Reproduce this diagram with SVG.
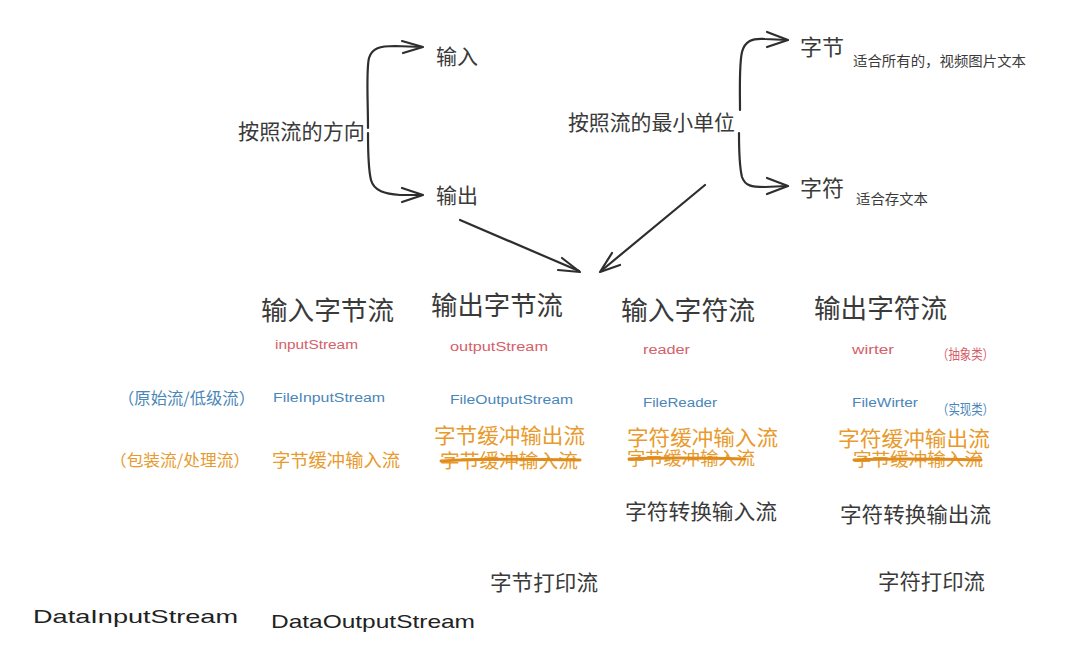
<svg xmlns="http://www.w3.org/2000/svg" width="1071" height="648" viewBox="0 0 1071 648">
<style>
.cn{font-family:"Noto Sans CJK SC","Noto Sans",sans-serif;fill:#3a3a3a}
.hw{font-family:"Liberation Sans","DejaVu Sans",sans-serif}
.red{fill:#d4606a}
.blue{fill:#4a86b8}
.org{fill:#e89a2c}
.ln{fill:none;stroke:#2e2e2e;stroke-width:2.2;stroke-linecap:round;stroke-linejoin:round}
.strike{fill:none;stroke:#e08c1c;stroke-width:3;stroke-linecap:round}
</style>
<rect width="1071" height="648" fill="#ffffff"/>
<g id="connectors">
<path class="ln" d="M368,128 C368,100 366,70 369,58 C372,48 380,46 395,46 L422,47"/>
<path class="ln" d="M402,41 L423,47 L403,53"/>
<path class="ln" d="M368,133 C368,150 368,168 371,180 C374,191 385,194 400,195 L422,195"/>
<path class="ln" d="M402,188 L423,195 L402,202"/>
<path class="ln" d="M740,110 C740,90 739,65 742,52 C745,41 752,38 765,39 L787,40"/>
<path class="ln" d="M767,32 L788,40 L767,47"/>
<path class="ln" d="M739,133 C739,150 739,165 742,177 C745,186 752,187 765,187 L787,186"/>
<path class="ln" d="M767,178 L788,186 L767,194"/>
<path class="ln" d="M460,220 L579,271"/>
<path class="ln" d="M562,258 L580,272 L558,270"/>
<path class="ln" d="M705,185 L601,271"/>
<path class="ln" d="M612,253 L600,272 L620,265"/>
</g>
<g id="direction">
<text class="cn" x="238" y="139" font-size="21" textLength="127" lengthAdjust="spacingAndGlyphs">按照流的方向</text>
<text class="cn" x="436" y="64" font-size="21">输入</text>
<text class="cn" x="436" y="203" font-size="21">输出</text>
</g>
<g id="unit">
<text class="cn" x="568" y="130" font-size="21" textLength="167" lengthAdjust="spacingAndGlyphs">按照流的最小单位</text>
<text class="cn" x="800" y="55" font-size="22">字节</text>
<text class="cn" x="853" y="66" font-size="13.5" textLength="173" lengthAdjust="spacingAndGlyphs">适合所有的，视频图片文本</text>
<text class="cn" x="800" y="196" font-size="22">字符</text>
<text class="cn" x="856" y="204" font-size="13.5" textLength="72" lengthAdjust="spacingAndGlyphs">适合存文本</text>
</g>
<g id="col-input-byte">
<text class="cn" x="261" y="320" font-size="26.5" textLength="133" lengthAdjust="spacingAndGlyphs">输入字节流</text>
<text class="hw red" x="275" y="349" font-size="12" textLength="83" lengthAdjust="spacingAndGlyphs">inputStream</text>
<text class="hw blue" x="273" y="402" font-size="12.5" textLength="112" lengthAdjust="spacingAndGlyphs">FileInputStream</text>
<text class="cn org" x="272" y="467" font-size="18" textLength="128" lengthAdjust="spacingAndGlyphs">字节缓冲输入流</text>
</g>
<g id="col-output-byte">
<text class="cn" x="431" y="315" font-size="26.5" textLength="132" lengthAdjust="spacingAndGlyphs">输出字节流</text>
<text class="hw red" x="450" y="351" font-size="12" textLength="98" lengthAdjust="spacingAndGlyphs">outputStream</text>
<text class="hw blue" x="450" y="404" font-size="12.5" textLength="123" lengthAdjust="spacingAndGlyphs">FileOutputStream</text>
<text class="cn org" x="434" y="443" font-size="21" textLength="151" lengthAdjust="spacingAndGlyphs">字节缓冲输出流</text>
<text class="cn org" x="440" y="468" font-size="19.5" textLength="138" lengthAdjust="spacingAndGlyphs">字节缓冲输入流</text>
<path class="strike" d="M441,461 C480,458 530,459 580,460"/>
<text class="cn" x="490" y="590" font-size="21" textLength="108" lengthAdjust="spacingAndGlyphs">字节打印流</text>
</g>
<g id="col-input-char">
<text class="cn" x="621" y="320" font-size="26.5" textLength="134" lengthAdjust="spacingAndGlyphs">输入字符流</text>
<text class="hw red" x="643" y="354" font-size="12" textLength="47" lengthAdjust="spacingAndGlyphs">reader</text>
<text class="hw blue" x="643" y="407" font-size="12.5" textLength="74" lengthAdjust="spacingAndGlyphs">FileReader</text>
<text class="cn org" x="627" y="445" font-size="21" textLength="151" lengthAdjust="spacingAndGlyphs">字符缓冲输入流</text>
<text class="cn org" x="627" y="465" font-size="18" textLength="128" lengthAdjust="spacingAndGlyphs">字节缓冲输入流</text>
<path class="strike" d="M629,459 C670,457 710,458 745,459"/>
<text class="cn" x="625" y="519" font-size="21" textLength="152" lengthAdjust="spacingAndGlyphs">字符转换输入流</text>
</g>
<g id="col-output-char">
<text class="cn" x="814" y="318" font-size="26.5" textLength="133" lengthAdjust="spacingAndGlyphs">输出字符流</text>
<text class="hw red" x="852" y="354" font-size="12" textLength="42" lengthAdjust="spacingAndGlyphs">wirter</text>
<text class="cn red" x="937" y="359" font-size="13.5" textLength="57" lengthAdjust="spacingAndGlyphs">（抽象类）</text>
<text class="hw blue" x="852" y="407" font-size="12.5" textLength="66" lengthAdjust="spacingAndGlyphs">FileWirter</text>
<text class="cn blue" x="937" y="414" font-size="13.5" textLength="57" lengthAdjust="spacingAndGlyphs">（实现类）</text>
<text class="cn org" x="838" y="446" font-size="21" textLength="152" lengthAdjust="spacingAndGlyphs">字符缓冲输出流</text>
<text class="cn org" x="853" y="466" font-size="18" textLength="130" lengthAdjust="spacingAndGlyphs">字节缓冲输入流</text>
<path class="strike" d="M854,460 C900,458 940,459 981,460"/>
<text class="cn" x="840" y="522" font-size="21" textLength="151" lengthAdjust="spacingAndGlyphs">字符转换输出流</text>
<text class="cn" x="878" y="589" font-size="21" textLength="107" lengthAdjust="spacingAndGlyphs">字符打印流</text>
</g>
<g id="row-labels">
<text class="cn blue" x="118" y="404" font-size="16" textLength="137" lengthAdjust="spacingAndGlyphs">（原始流/低级流）</text>
<text class="cn org" x="110" y="466" font-size="16" textLength="140" lengthAdjust="spacingAndGlyphs">（包装流/处理流）</text>
</g>
<g id="data-streams">
<text class="hw" fill="#222" x="33" y="623" font-size="19" textLength="205" lengthAdjust="spacingAndGlyphs">DataInputStream</text>
<text class="hw" fill="#222" x="271" y="628" font-size="19" textLength="204" lengthAdjust="spacingAndGlyphs">DataOutputStream</text>
</g>
</svg>
